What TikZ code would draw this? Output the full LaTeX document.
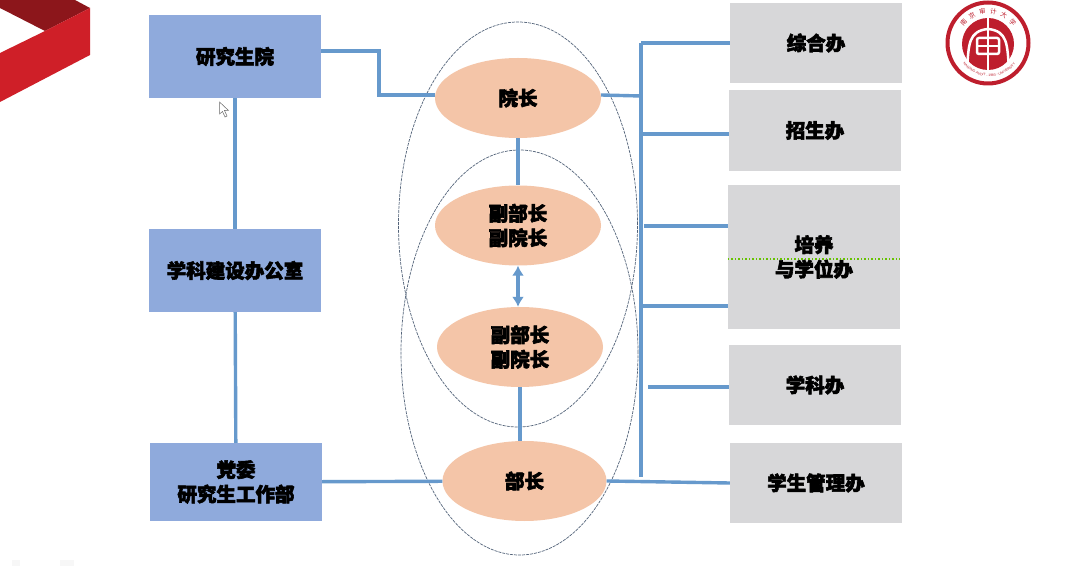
\documentclass[tikz,border=0pt]{standalone}
\usepackage{fontspec}
\usepackage{xcolor}
\usepackage{tikz}
\usetikzlibrary{arrows.meta,positioning,calc,shapes.geometric,decorations.text}
\newfontfamily\cjk[BoldFeatures={FakeBold=3}]{Noto Sans CJK SC}
\setsansfont{Liberation Sans}
\definecolor{boxblue}{HTML}{8FAADC}
\definecolor{boxgrey}{HTML}{D7D7D9}
\definecolor{peach}{HTML}{F4C5A8}
\definecolor{linkblue}{HTML}{6699CC}
\definecolor{ringgrey}{HTML}{54647A}
\definecolor{logored}{HTML}{BE1E2D}
\definecolor{ribbondark}{HTML}{8C161B}
\definecolor{ribbonred}{HTML}{CF1F28}

\begin{document}
\begin{tikzpicture}[
  x=1pt,
  y=-1pt,
  txt/.style={font=\cjk\bfseries\fontsize{19.5}{24.5}\selectfont,align=center,text=black,inner sep=0pt},
  blue box/.style={txt,fill=boxblue,minimum width=172pt},
  grey box/.style={txt,fill=boxgrey,minimum width=172pt},
  post/.style={txt,ellipse,fill=peach,minimum width=166pt,minimum height=80pt},
  link/.style={draw=linkblue,line width=3.4pt},
  ring/.style={draw=ringgrey,line width=0.7pt,dash pattern=on 3pt off 1pt}
]
  \useasboundingbox[fill=white] (0,0) rectangle (1080,569);

  \fill[ribbondark] (0,0) -- (75,0) -- (90,8) -- (45,31) -- (0,8) -- cycle;
  \fill[ribbonred] (45,31) -- (90,8) -- (90,55) -- (0,102) -- (0,53) -- cycle;

  \node[blue box,minimum height=83pt] (yjsy) at (235,56.5) {研究生院};
  \node[blue box,minimum height=83pt] (xkb) at (235,270.5) {学科建设办公室};
  \node[blue box,minimum height=78pt] (dw) at (236,482) {党委\\研究生工作部};

  \node[post] (yz) at (518,98) {院长};
  \node[post] (fa) at (518,225.5) {副部长\\副院长};
  \node[post] (fb) at (520,347) {副部长\\副院长};
  \node[post,minimum width=164pt] (bz) at (524.5,481) {部长};

  \node[grey box,minimum height=80pt] (zh) at (816,43) {综合办};
  \node[grey box,minimum height=81pt] (zs) at (815,130.5) {招生办};
  \node[grey box,minimum height=144pt] (py) at (814,257) {培养\\与学位办};
  \node[grey box,minimum height=80pt] (xk) at (815,385) {学科办};
  \node[grey box,minimum height=80pt] (xs) at (816,483) {学生管理办};

  \node[ring,ellipse,minimum width=239pt,minimum height=405pt,inner sep=0pt] (upring) at (518,224.5) {};
  \node[ring,ellipse,minimum width=237pt,minimum height=405pt,inner sep=0pt] (lowring) at (519.5,352.5) {};

  \coordinate (bustop) at (641,43);
  \coordinate (busend) at (641,477);
  \coordinate (bend) at (379,51);
  \coordinate (busyz) at (641,96);
  \coordinate (buszs) at (641,134);
  \coordinate (buspa) at (644,226);
  \coordinate (buspb) at (641,306);
  \coordinate (busxk) at (648,387);

  \draw[link] ([yshift=5.5pt]yjsy.east) -- (bend) |- ([yshift=3pt]yz.west);
  \draw[link] (yjsy) -- (xkb);
  \draw[link] (xkb) -- (dw);
  \draw[link] (dw) -- (bz);
  \draw[link] (yz) -- (fa);
  \draw[link,{Latex[length=10pt,width=12pt]}-{Latex[length=10pt,width=12pt]}] (fa) -- (fb.north -| fa);
  \draw[link] (fb) -- (bz.north -| fb);
  \draw[link] ([yshift=3pt]yz.east) -- (busyz);
  \draw[link] (bustop) -- (busend);
  \draw[link] (bustop) -- (zh.west |- bustop);
  \draw[link] (buszs) -- (zs.west |- buszs);
  \draw[link] (buspa) -- (py.west |- buspa);
  \draw[link] (buspb) -- (py.west |- buspb);
  \draw[link] (busxk) -- (xk.west |- busxk);
  \draw[link] (bz.east) -- (xs.west);

  \draw[green!60!black!60!yellow,line width=1.5pt,dotted] (py.west |- 0,259) -- (py.east |- 0,259);

  \draw[black!60,fill=white,line width=0.5pt] (219.5,102) -- (219.5,114) -- (222.5,111.5) -- (225,117) -- (227,116) -- (224.5,110.5) -- (228.5,110.5) -- cycle;

  \draw[logored,line width=4pt] (988,43) circle[radius=40.5pt];
  \fill[logored] (988,44) circle[radius=26pt];
  \draw[white,line width=2.5pt] (967,68) .. controls (969,45) and (968,31) .. (988,29) .. controls (1008,31) and (1007,45) .. (1009,68);
  \draw[white,line width=2pt] (988,17) -- (988,70);
  \draw[white,line width=2.5pt,rounded corners=2pt] (977,38) rectangle (999,54);
  \draw[white,line width=2pt] (977,46) -- (999,46);
  \foreach \ch [count=\i] in {南,京,审,计,大,学}
    \node[font=\cjk\fontsize{6.5}{7}\selectfont,text=logored,inner sep=0pt,rotate={50-(\i-1)*20}] (logo\i) at ({988+32*cos(140-(\i-1)*20)},{43-32*sin(140-(\i-1)*20)}) {\ch};
  \coordinate (logostart) at ({988+32.5*cos(205)},{43-32.5*sin(205)});
  \path[decorate,decoration={text along path,text align=center,
    text={|\sffamily\fontsize{3.4}{4}\selectfont\color{logored}|NANJING AUDIT - 1983 - UNIVERSITY}}]
    (logostart) arc[start angle=205,end angle=335,radius=34pt];

  \fill[black!3] (12,560) rectangle (20,566);
  \fill[black!3] (60,560) rectangle (74,566);
\end{tikzpicture}
\end{document}
